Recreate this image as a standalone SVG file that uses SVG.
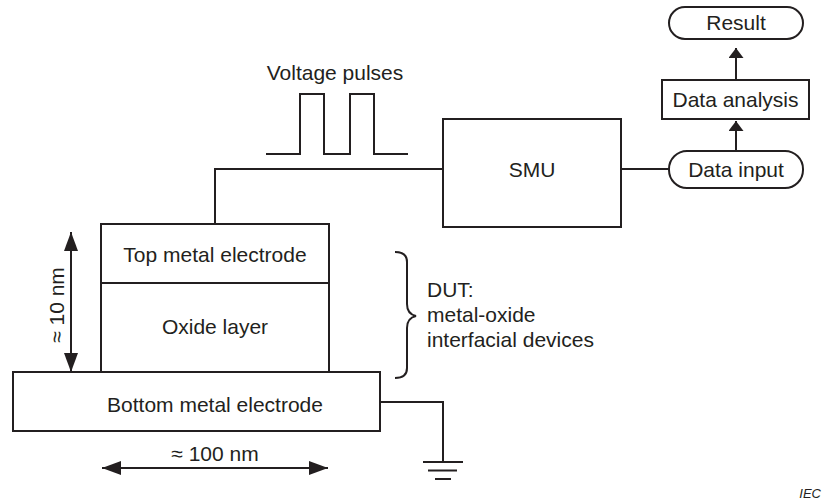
<svg xmlns="http://www.w3.org/2000/svg" width="824" height="501" viewBox="0 0 824 501">
<defs>
<style>
.b{fill:#fff;stroke:#231f20;stroke-width:2}
.l{fill:none;stroke:#231f20;stroke-width:2}
text{font-family:"Liberation Sans",Arial,sans-serif;font-size:21px;fill:#231f20}
.c{text-anchor:middle}
</style>
<marker id="ah" viewBox="0 0 19 14" refX="19" refY="7" markerWidth="19" markerHeight="14" markerUnits="userSpaceOnUse" orient="auto-start-reverse">
<path d="M0,0 L19,7 L0,14 Z" fill="#231f20"/>
</marker>
<marker id="ah2" viewBox="0 0 10 15" refX="10" refY="7.5" markerWidth="10" markerHeight="15" markerUnits="userSpaceOnUse" orient="auto">
<path d="M0,0 L10,7.5 L0,15 Z" fill="#231f20"/>
</marker>
</defs>

<g id="connectors">
<path class="l" d="M443,169 H215 V224"/>
<path class="l" d="M621,169 H669"/>
<path class="l" d="M380,402 H443 V462"/>
<path class="l" d="M736,150 V121" marker-end="url(#ah2)"/>
<path class="l" d="M736,80 V48" marker-end="url(#ah2)"/>
</g>

<g id="voltage-pulses">
<path class="l" d="M266,154 H300 V94 H324 V154 H350 V94 H374 V154 H408"/>
<text class="c" x="335" y="80">Voltage pulses</text>
</g>

<g id="result">
<rect class="b" x="669" y="7" width="134" height="32" rx="16"/>
<text class="c" x="736" y="30">Result</text>
</g>

<g id="data-analysis">
<rect class="b" x="662" y="80" width="147" height="39"/>
<text class="c" x="735.5" y="107">Data analysis</text>
</g>

<g id="data-input">
<rect class="b" x="669" y="151" width="134" height="37" rx="18"/>
<text class="c" x="736" y="177">Data input</text>
</g>

<g id="smu">
<rect class="b" x="443" y="119" width="178" height="108"/>
<text class="c" x="532" y="177">SMU</text>
</g>

<g id="top-electrode">
<rect class="b" x="101" y="224" width="228" height="59"/>
<text class="c" x="215" y="262">Top metal electrode</text>
</g>

<g id="oxide-layer">
<rect class="b" x="101" y="283" width="228" height="89"/>
<text class="c" x="215" y="334">Oxide layer</text>
</g>

<g id="bottom-electrode">
<rect class="b" x="13" y="372" width="367" height="59"/>
<text class="c" x="215" y="412">Bottom metal electrode</text>
</g>

<g id="ground">
<path class="l" d="M423,462 H463 M428,470.5 H457 M435,479 H451"/>
</g>

<g id="dim-height">
<path class="l" d="M71,372 V232" marker-start="url(#ah)" marker-end="url(#ah)"/>
<text class="c" transform="translate(64,305) rotate(-90)">≈ 10 nm</text>
</g>

<g id="dim-width">
<path class="l" d="M102,468 H328" marker-start="url(#ah)" marker-end="url(#ah)"/>
<text class="c" x="215" y="461">≈ 100 nm</text>
</g>

<g id="dut">
<path class="l" stroke-width="1.6" d="M395,252 Q407,252 407,262 V304 Q407,314 416,316 Q407,318 407,328 V368 Q407,378 395,378"/>
<text x="427" y="297">DUT:</text>
<text x="427" y="322">metal-oxide</text>
<text x="427" y="347">interfacial devices</text>
</g>

<text x="821" y="498" style="font-size:13px;font-style:italic;text-anchor:end">IEC</text>
</svg>
